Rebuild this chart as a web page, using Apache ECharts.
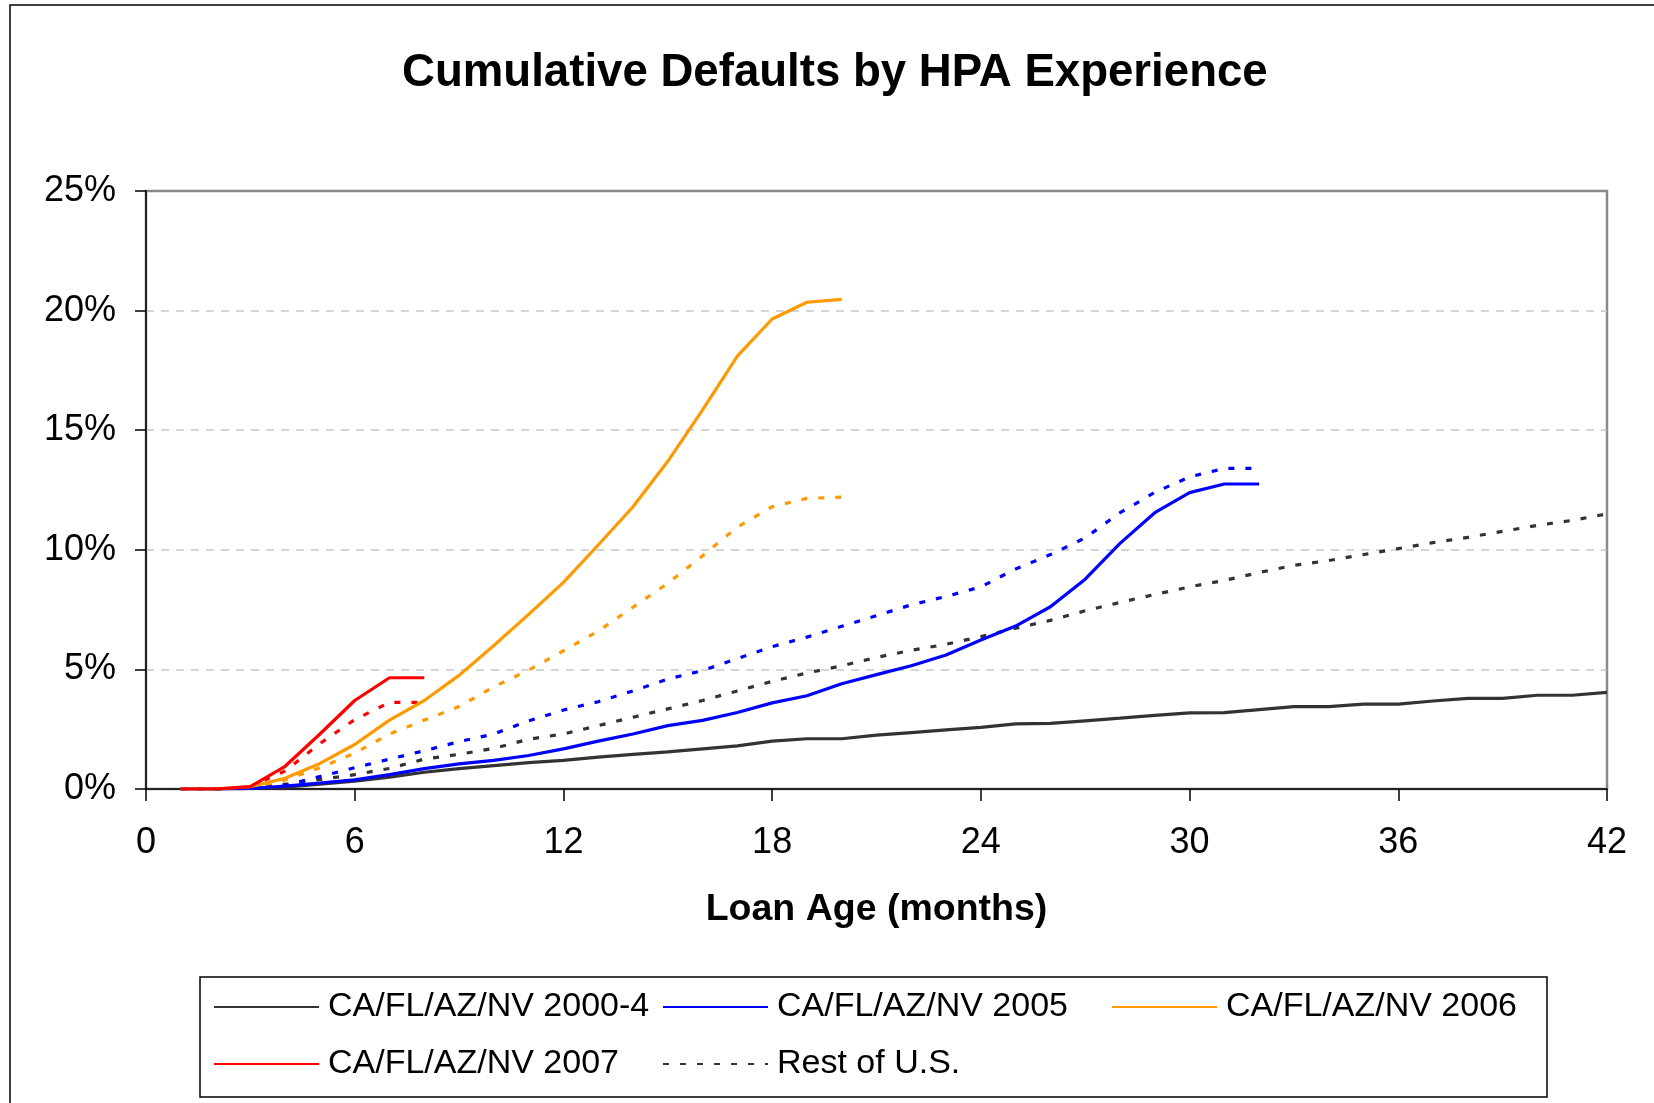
<!DOCTYPE html>
<html>
<head>
<meta charset="utf-8">
<title>Cumulative Defaults by HPA Experience</title>
<script src="https://cdn.jsdelivr.net/npm/echarts@6/dist/echarts.min.js"></script>
<style>
  html, body { margin: 0; padding: 0; background: #fff; }
  #chart { width: 1654px; height: 1103px; }
</style>
</head>
<body>
<div id="chart"></div>
<script>
// cumulative default rate (%) by loan age, month 1 onwards
var ca2000to4 = [0, 0, 0.02, 0.08, 0.2, 0.33, 0.5, 0.7, 0.85, 0.98,
    1.1, 1.2, 1.33, 1.45, 1.55, 1.68, 1.8, 2.0, 2.1, 2.1,
    2.25, 2.36, 2.47, 2.58, 2.72, 2.74, 2.85, 2.96, 3.08, 3.18,
    3.19, 3.32, 3.44, 3.44, 3.55, 3.55, 3.68, 3.79, 3.79, 3.92, 3.92, 4.04];
var ca2005 = [0, 0, 0.02, 0.12, 0.25, 0.38, 0.6, 0.85, 1.05, 1.2,
    1.4, 1.68, 2.0, 2.3, 2.65, 2.87, 3.2, 3.6, 3.9, 4.4,
    4.78, 5.15, 5.6, 6.23, 6.81, 7.62, 8.77, 10.27, 11.55, 12.39, 12.75, 12.75];
var ca2006 = [0, 0, 0.1, 0.45, 1.07, 1.86, 2.88, 3.7, 4.75, 6.0,
    7.3, 8.64, 10.2, 11.8, 13.7, 15.85, 18.1, 19.65, 20.35, 20.47];
var ca2007 = [0, 0, 0.1, 0.95, 2.3, 3.7, 4.65, 4.65];

var rest2000to4 = [0, 0, 0.05, 0.2, 0.4, 0.6, 0.86, 1.25, 1.45, 1.7,
    2.08, 2.3, 2.65, 3.0, 3.35, 3.7, 4.1, 4.5, 4.85, 5.15,
    5.5, 5.8, 6.05, 6.37, 6.72, 7.05, 7.45, 7.8, 8.13, 8.45,
    8.72, 9.05, 9.35, 9.55, 9.8, 10.05, 10.3, 10.52, 10.77, 11.02, 11.23, 11.5];
var rest2005 = [0, 0, 0.05, 0.15, 0.52, 0.89, 1.25, 1.6, 1.98, 2.3,
    2.85, 3.3, 3.65, 4.1, 4.6, 4.95, 5.45, 5.95, 6.35, 6.8,
    7.25, 7.7, 8.05, 8.45, 9.2, 9.8, 10.5, 11.55, 12.4, 13.05, 13.4, 13.4];
var rest2006 = [0, 0, 0.05, 0.38, 0.89, 1.5, 2.3, 2.88, 3.45, 4.27,
    4.97, 5.78, 6.6, 7.6, 8.6, 9.75, 10.95, 11.8, 12.15, 12.2];
var rest2007 = [0, 0, 0.1, 0.75, 1.9, 2.9, 3.62, 3.62];

var xTicks = [0, 6, 12, 18, 24, 30, 36, 42];
var yTicks = [0, 5, 10, 15, 20, 25];

var REST = 'Rest of U.S.';
var legendNames = ['CA/FL/AZ/NV 2000-4', 'CA/FL/AZ/NV 2005', 'CA/FL/AZ/NV 2006',
    'CA/FL/AZ/NV 2007', REST];

var FONT = '"Liberation Sans", Arial, sans-serif';

function byMonth(values) {
    return values.map(function (v, i) { return [i + 1, v]; });
}

function line(name, values, color, dashed) {
    return {
        name: name,
        type: 'line',
        data: byMonth(values),
        symbol: 'none',
        silent: true,
        lineStyle: {
            color: color,
            width: 3.2,
            type: dashed ? [6, 11] : 'solid'
        },
        itemStyle: { color: color }
    };
}

// one legend per row, fixed-width labels keep the columns aligned
function legendRow(names, top) {
    return {
        data: names,
        left: 213,
        top: top,
        padding: 0,
        itemWidth: 105,
        itemHeight: 12,
        itemGap: 1,
        itemStyle: { opacity: 0 },
        formatter: '{t|{name}}',
        textStyle: {
            fontFamily: FONT,
            fontSize: 34,
            color: '#000',
            rich: {
                t: {
                    fontFamily: FONT,
                    fontSize: 34,
                    color: '#000',
                    width: 333,
                    lineHeight: 40,
                    padding: [0, 0, 0, 4]
                }
            }
        }
    };
}

var chart = echarts.init(document.getElementById('chart'));

chart.setOption({
    animation: false,
    backgroundColor: '#fff',
    title: {
        text: 'Cumulative Defaults by HPA Experience',
        left: 397,
        top: 45,
        textStyle: {
            fontFamily: FONT,
            fontWeight: 'bold',
            fontSize: 45.6,
            color: '#000'
        }
    },
    graphic: [
        {
            type: 'rect',
            shape: { x: 10, y: 5, width: 1700, height: 1200 },
            style: { fill: null, stroke: '#000', lineWidth: 1.5 },
            silent: true
        },
        {
            type: 'rect',
            shape: { x: 200, y: 977, width: 1347, height: 120 },
            style: { fill: null, stroke: '#000', lineWidth: 1.5 },
            silent: true
        }
    ],
    legend: [
        legendRow(legendNames.slice(0, 3), 990),
        legendRow(legendNames.slice(3), 1047)
    ],
    grid: {
        left: 146,
        top: 191,
        width: 1461,
        height: 598,
        show: true,
        borderColor: '#888',
        borderWidth: 2.5,
        backgroundColor: 'transparent'
    },
    xAxis: {
        type: 'value',
        min: xTicks[0],
        max: xTicks[xTicks.length - 1],
        interval: 6,
        name: 'Loan Age (months)',
        nameLocation: 'middle',
        nameGap: 102,
        nameTextStyle: {
            fontFamily: FONT,
            fontWeight: 'bold',
            fontSize: 37.5,
            color: '#000'
        },
        axisLine: { lineStyle: { color: '#000', width: 1.5 } },
        axisTick: { show: true, length: 12, lineStyle: { color: '#000', width: 1.5 } },
        axisLabel: {
            margin: 36,
            fontFamily: FONT,
            fontSize: 36,
            color: '#000'
        },
        splitLine: { show: false }
    },
    yAxis: {
        type: 'value',
        min: yTicks[0],
        max: yTicks[yTicks.length - 1],
        interval: 5,
        axisLine: { show: true, lineStyle: { color: '#000', width: 1.5 } },
        axisTick: { show: true, length: 11, lineStyle: { color: '#000', width: 1.5 } },
        axisLabel: {
            margin: 30,
            fontFamily: FONT,
            fontSize: 36,
            color: '#000',
            formatter: '{value}%'
        },
        splitLine: {
            show: true,
            showMinLine: false,
            showMaxLine: false,
            lineStyle: { color: '#c8c8c8', width: 1.5, type: [8, 7] }
        }
    },
    series: [
        // first "Rest of U.S." series sets the legend swatch
        line(REST, rest2000to4, '#333333', true),
        line(REST, rest2005, '#0000ff', true),
        line(REST, rest2006, '#ff9900', true),
        line(REST, rest2007, '#ff0000', true),
        line(legendNames[0], ca2000to4, '#333333', false),
        line(legendNames[1], ca2005, '#0000ff', false),
        line(legendNames[2], ca2006, '#ff9900', false),
        line(legendNames[3], ca2007, '#ff0000', false)
    ]
});

window.addEventListener('resize', function () {
    chart.resize();
});
</script>
</body>
</html>
